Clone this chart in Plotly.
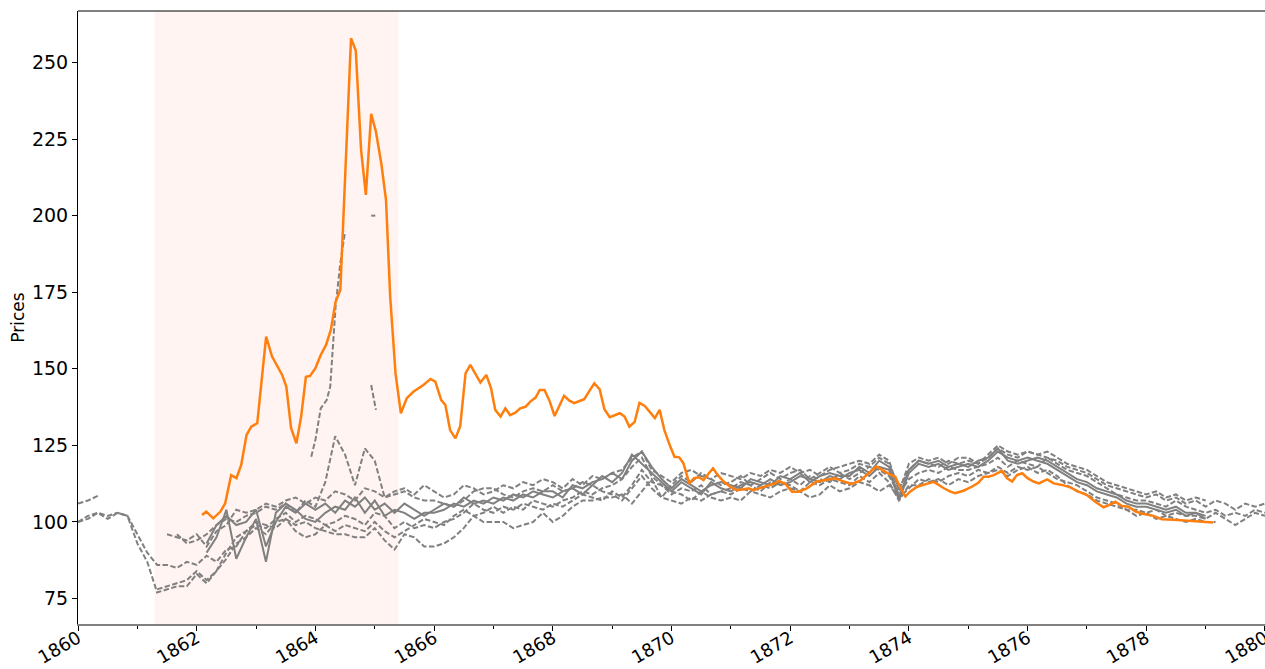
import plotly.graph_objects as go

# ---------------- data ----------------
war_start, war_end = 1861.29, 1865.40

orange_years = [1862.09, 1862.16, 1862.28, 1862.40, 1862.48, 1862.58, 1862.67, 1862.75, 1862.84, 1862.92,
                1863.02, 1863.07, 1863.17, 1863.27, 1863.38, 1863.44, 1863.51, 1863.59, 1863.68, 1863.76,
                1863.84, 1863.91, 1864.00, 1864.09, 1864.18, 1864.26, 1864.34, 1864.42, 1864.60, 1864.68,
                1864.77, 1864.85, 1864.94, 1865.02, 1865.11, 1865.19, 1865.26, 1865.35, 1865.44, 1865.54,
                1865.65, 1865.74, 1865.82, 1865.94, 1866.02, 1866.12, 1866.19, 1866.27, 1866.36, 1866.44,
                1866.53, 1866.61, 1866.69, 1866.78, 1866.88, 1866.96, 1867.03, 1867.12, 1867.20, 1867.28,
                1867.37, 1867.45, 1867.54, 1867.62, 1867.71, 1867.78, 1867.86, 1867.95, 1868.03, 1868.12,
                1868.19, 1868.28, 1868.36, 1868.45, 1868.53, 1868.62, 1868.70, 1868.79, 1868.87, 1868.96,
                1869.04, 1869.13, 1869.21, 1869.29, 1869.38, 1869.46, 1869.55, 1869.63, 1869.72, 1869.80,
                1869.88, 1869.97, 1870.05, 1870.13, 1870.20, 1870.30, 1870.38, 1870.46, 1870.54, 1870.63,
                1870.70, 1870.78, 1870.88, 1870.99, 1871.10, 1871.22, 1871.30, 1871.38, 1871.50, 1871.61,
                1871.72, 1871.81, 1871.92, 1872.03, 1872.14, 1872.28, 1872.45, 1872.62, 1872.76, 1872.90,
                1873.04, 1873.18, 1873.32, 1873.45, 1873.55, 1873.66, 1873.77, 1873.86, 1873.94, 1874.02,
                1874.14, 1874.25, 1874.33, 1874.42, 1874.50, 1874.59, 1874.70, 1874.78, 1874.92, 1875.06,
                1875.17, 1875.26, 1875.34, 1875.43, 1875.57, 1875.65, 1875.74, 1875.82, 1875.91, 1876.00,
                1876.10, 1876.19, 1876.33, 1876.44, 1876.58, 1876.72, 1876.86, 1877.00, 1877.14, 1877.28,
                1877.37, 1877.48, 1877.59, 1877.70, 1877.82, 1877.96, 1878.12, 1878.26, 1878.46, 1878.69,
                1878.91, 1879.13]
orange_values = [102.3, 103.4, 101.2, 103.4, 106.1, 115.3, 114.3, 118.6, 128.4, 131.1,
                 132.2, 140.9, 160.5, 154.0, 150.2, 148.0, 144.2, 130.6, 125.7, 134.4,
                 147.4, 147.7, 150.2, 154.5, 157.8, 162.7, 171.9, 175.7, 257.9, 253.9,
                 221.4, 206.8, 233.2, 227.4, 217.1, 205.1, 173.6, 148.5, 135.5, 140.4,
                 142.5, 143.6, 144.7, 146.7, 145.8, 139.8, 138.2, 130.0, 127.3, 131.3,
                 148.5, 151.3, 148.5, 145.5, 148.0, 143.6, 136.6, 134.4, 137.1, 134.9,
                 135.7, 137.1, 137.6, 139.3, 140.6, 143.1, 143.1, 139.3, 134.6, 138.2,
                 141.2, 139.6, 138.8, 139.5, 140.1, 142.9, 145.3, 143.3, 136.8, 134.2,
                 134.9, 135.5, 134.4, 131.1, 132.7, 138.9, 137.9, 136.0, 133.9, 136.6,
                 130.0, 125.1, 121.3, 121.1, 119.2, 112.6, 114.3, 114.6, 113.7, 115.9,
                 117.5, 115.3, 113.2, 111.5, 110.4, 110.7, 111.0, 110.4, 111.0, 111.8,
                 112.4, 113.4, 112.4, 109.9, 109.9, 111.0, 113.2, 113.9, 114.3, 113.2,
                 112.4, 113.5, 115.9, 118.1, 117.0, 115.7, 114.8, 111.0, 108.3, 109.9,
                 111.5, 112.0, 112.6, 113.1, 112.1, 111.0, 109.9, 109.4, 110.2, 111.5,
                 112.8, 114.8, 114.8, 115.3, 116.7, 114.3, 113.2, 115.3, 115.9, 114.3,
                 113.2, 112.6, 113.9, 112.6, 112.1, 111.3, 109.9, 108.8, 106.6, 104.8,
                 105.5, 106.6, 105.2, 105.0, 103.4, 102.6, 102.0, 100.9, 100.7, 100.4,
                 100.1, 99.8]

# gray series on a two-monthly calendar (1860.0 ... 1880.0)
gray_years = [1860 + k / 6 for k in range(121)]

gray_s1 = [100, 101, 103, 102, 103, 102,
           93, 87, 77, 78, 79, 79,
           83, 80, 84, 88, 93, 95,
           98, 96, 100, 101, 99, 100,
           98, 97, 96, 96, 95, 95,
           98, 94, 91, 96, 95, 92,
           92, 93, 95, 98, 102, 100,
           100, 100, 98, 99, 100, 103,
           100, 102, 105, 107, 107, 108,
           108, 109, 106, 110, 114, 108,
           107, 106, 108, 107, 109, 110,
           109, 111, 110, 112, 111, 113,
           112, 110, 113, 112, 114, 113,
           112, 115, 113, 116, 113, 107,
           112, 112, 114, 113, 115, 116,
           115, 117, 116, 118, 116, 118,
           117, 118, 116, 114, 113, 112,
           110, 108, 107, 106, 104, 104,
           103, 104, 102, 103, 102, 102,
           101, 103, 101, 99, 101, 103,
           102]
gray_s2 = [100, 102, 103, 101, 103, 102,
           96, 90, 86, 86, 85, 87,
           86, 89, 87, 91, 92, 97,
           99, 98, 101, 103, 100, 102,
           101, 99, 100, 102, 101, 99,
           103, 102, 98, 100, 98, 99,
           98, 100, 101, 103, 106, 104,
           103, 105, 104, 106, 105, 104,
           106, 105, 107, 109, 108, 107,
           110, 108, 112, 117, 113, 112,
           110, 109, 107, 110, 108, 107,
           108, 107, 110, 109, 108, 110,
           111, 110, 108, 109, 112, 110,
           111, 113, 112, 110, 112, 108,
           111, 114, 113, 114, 112, 114,
           113, 115, 116, 117, 115, 117,
           118, 116, 117, 115, 112, 110,
           109, 107, 106, 105, 104, 102,
           103, 101, 102, 101, 100, 101,
           100, 100]
gray_s3 = [106, 107, 108.5, None, None, None,
           None, None, None, 96, 95, 94,
           96, 92, 97, 99, 104, 103,
           104, 106, 105, 107, 108, 106,
           108, 107, 110, 109, 107, 111,
           110, 108, 109, 110, 108, 107,
           107, 106, 105, 107, 110, 111,
           111, 109, 108, 110, 111, 110,
           112, 110, 111, 113, 112, 110,
           109, 107, 111, 115, 111, 108,
           112, 115, 113, 116, 114, 112,
           113, 115, 112, 114, 116, 114,
           116, 117, 114, 116, 118, 116,
           117, 119, 118, 121, 119, 111,
           117, 120, 119, 118, 120, 119,
           120, 119, 121, 124, 122, 121,
           123, 122, 121, 120, 118, 117,
           116, 114, 112, 111, 110, 109,
           108, 109, 107, 108, 106, 107,
           105, 107, 106, 104, 106, 105,
           106]
gray_s4 = [None, None, None, None, None, None,
           None, None, None, None, None, None,
           None, 90, 95, 104, 88, 95,
           101, 87, 103, 106, 104, 101,
           100, 103, 105, 104, 108, 103,
           107, 102, 104, 103, 101, 103,
           103, 104, 106, 105, 107, 106,
           108, 107, 109, 108, 110, 109,
           108, 110, 111, 109, 112, 115,
           113, 116, 122, 119, 116, 113,
           110, 113, 111, 109, 113, 111,
           110, 112, 113, 112, 114, 112,
           113, 115, 114, 113, 115, 114,
           116, 117, 115, 118, 117, 107,
           116, 119, 118, 119, 117, 118,
           119, 118, 120, 123, 121, 120,
           121, 120, 119, 117, 115, 113,
           112, 110, 109, 108, 106, 105,
           105, 104, 103, 104, 102, 103,
           101]
gray_s5 = [None, None, None, None, None, None,
           None, None, None, None, None, None,
           None, 93, 99, 102, 99, 100,
           104, 92, 100, 105, 103, 106,
           104, 106, 103, 107, 105, 108,
           104, 106, 103, 106, 104, 102,
           104, 106, 105, 108, 106, 107,
           106, 108, 107, 109, 108, 110,
           110, 108, 112, 111, 113, 114,
           116, 114, 120, 123, 118, 114,
           111, 114, 112, 110, 112, 113,
           112, 111, 114, 113, 112, 115,
           114, 116, 113, 115, 116, 115,
           115, 118, 116, 120, 118, 108,
           117, 120, 119, 120, 118, 119,
           118, 120, 121, 124, 120, 119,
           120, 121, 120, 118, 116, 114,
           113, 111, 110, 109, 107, 106,
           106, 105, 104, 105, 103, 103,
           102]
gray_s6 = [None, None, None, None, None, None,
           None, None, 78, 79, 80, 81,
           84, 81, 84, 90, 95, 97,
           100, 99, 98, 101, 97, 95,
           96, 99, 97, 99, 98, 97,
           100, 97, 95, 97, 99, 101,
           100, 99, 102, 104, 102, 103,
           105, 103, 105, 104, 107, 106,
           105, 107, 108, 110, 109, 111,
           112, 114, 118, 121, 115, 112,
           109, 111, 110, 112, 109, 110,
           111, 113, 112, 110, 113, 112,
           114, 112, 115, 114, 113, 116,
           114, 116, 118, 117, 115, 109,
           114, 116, 117, 116, 118, 117,
           117, 118, 119, 121, 118, 120,
           119, 118, 121, 119, 117, 116,
           115, 113, 111, 109, 108, 107,
           107, 106, 105, 107, 105, 104,
           103, 104, 102, 103, 102, 104,
           103]
gray_s7 = [None, None, None, None, None, None,
           None, None, None, None, 96, 93,
           94, 96, 99, 101, 100, 102,
           103, 105, 104, 106, 103, 107,
           105, 113, 128, 122, 112, 124,
           120, 108, 110, 111, 109, 112,
           110, 108, 109, 112, 111, 109,
           110, 112, 111, 113, 112, 114,
           113, 111, 114, 112, 115, 114,
           116, 117, 121, 123, 117, 115,
           113, 116, 117, 115, 114, 116,
           115, 114, 116, 115, 117, 116,
           118, 116, 117, 115, 117, 118,
           119, 120, 119, 122, 120, 110,
           119, 121, 120, 121, 119, 121,
           121, 119, 122, 125, 123, 122,
           123, 122, 123, 121, 119, 118,
           117, 115, 113, 112, 111, 110,
           109, 110, 108, 109, 107, 108,
           107]

spike_years = [1863.93, 1864.00, 1864.09, 1864.19, 1864.25, 1864.34, 1864.42, 1864.50, 1864.70, 1864.94, 1865.01]
spike_values = [121.3, 126.8, 137.1, 139.8, 144.2, 170.3, 184.5, 194.8, None, 200.0, 200.0]
spike2_years = [1864.94, 1865.02]
spike2_values = [144.7, 136.6]

gray_dashed = [gray_s1, gray_s2, gray_s3, gray_s6, gray_s7]
gray_solid = [gray_s4, gray_s5]

x_ticks = [1860, 1862, 1864, 1866, 1868, 1870, 1872, 1874, 1876, 1878, 1880]
y_ticks = [75, 100, 125, 150, 175, 200, 225, 250]

# ---------------- figure ----------------
GRAY = "#808080"
ORANGE = "#ff7f0e"
DASH = "5.5px,2.4px"
FONT = "DejaVu Sans, Liberation Sans, sans-serif"

fig = go.Figure()


def pad(s):
    return list(s) + [None] * (len(gray_years) - len(s))


for s in gray_dashed:
    fig.add_trace(go.Scatter(x=gray_years, y=pad(s), mode="lines",
                             line=dict(color=GRAY, width=2, dash=DASH),
                             connectgaps=False, showlegend=False, hoverinfo="skip"))
for s in gray_solid:
    fig.add_trace(go.Scatter(x=gray_years, y=pad(s), mode="lines",
                             line=dict(color=GRAY, width=2),
                             connectgaps=False, showlegend=False, hoverinfo="skip"))
fig.add_trace(go.Scatter(x=spike_years, y=spike_values, mode="lines",
                         line=dict(color=GRAY, width=2, dash=DASH),
                         connectgaps=False, showlegend=False))
fig.add_trace(go.Scatter(x=spike2_years, y=spike2_values, mode="lines",
                         line=dict(color=GRAY, width=2, dash=DASH), showlegend=False))
fig.add_trace(go.Scatter(x=orange_years, y=orange_values, mode="lines",
                         line=dict(color=ORANGE, width=2.5), showlegend=False))

fig.add_vrect(x0=war_start, x1=war_end, fillcolor="rgba(250,128,114,0.09)",
              line_width=0, layer="below")
# top spine
fig.add_shape(type="line", xref="paper", yref="paper", x0=0, x1=1, y0=1, y1=1,
              line=dict(color="black", width=1))

fig.update_layout(
    width=1265, height=669,
    margin=dict(l=78, r=0, t=11, b=45),
    paper_bgcolor="white", plot_bgcolor="white",
    font=dict(family=FONT, size=19, color="black"),
    xaxis=dict(range=[1860, 1880.0001], tickvals=x_ticks, ticktext=[str(v) for v in x_ticks],
               tickangle=-30, ticks="outside", ticklen=5, tickcolor="black",
               showgrid=False, zeroline=False, showline=True, linecolor=GRAY, linewidth=2,
               tickfont=dict(size=18), automargin=False, ticklabeloverflow="allow",
               ticklabelstandoff=-10,
               minor=dict(dtick=1, tick0=1860, ticks="outside", ticklen=3, tickcolor="black",
                          showgrid=False)),
    yaxis=dict(range=[66.7, 266.8], tickvals=y_ticks, ticks="outside", ticklen=5,
               tickcolor="black", showgrid=False, zeroline=False, showline=True,
               linecolor="black", linewidth=1, tickfont=dict(size=19), automargin=False,
               title=dict(text="Prices", font=dict(size=17), standoff=2)),
)

fig.write_html("out.html", config={"displayModeBar": False},
               post_script="document.body.style.margin='0';document.body.style.overflow='hidden';")
